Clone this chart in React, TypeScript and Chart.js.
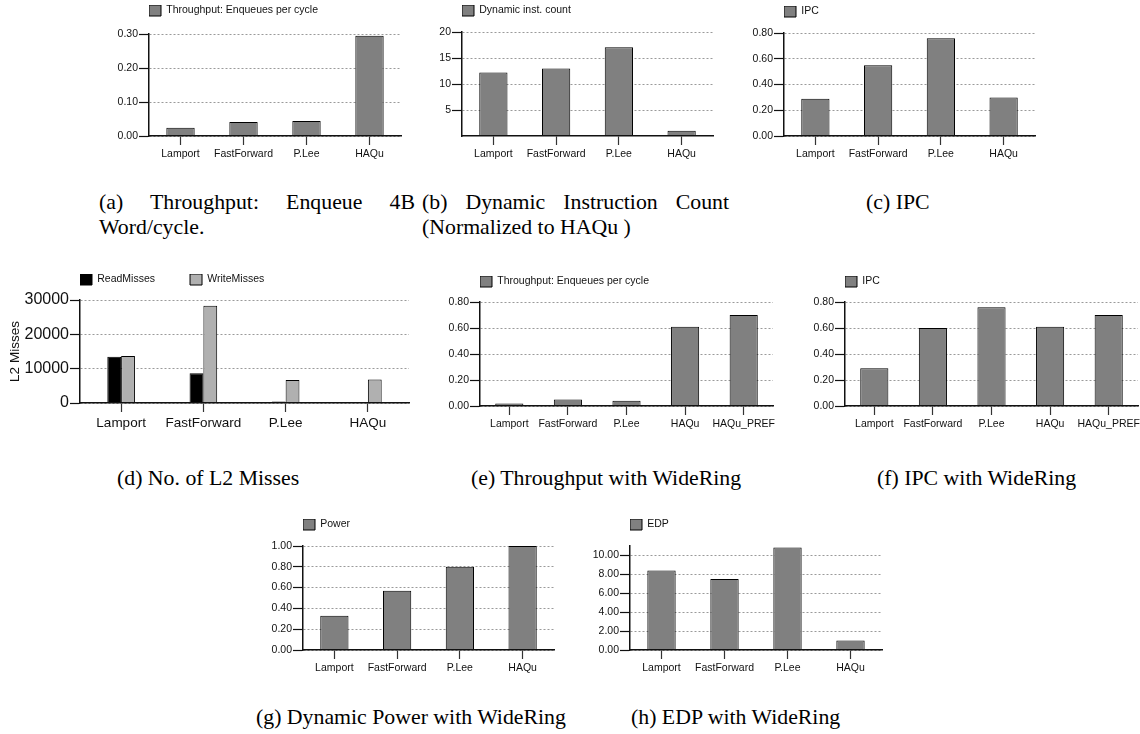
import React, { useEffect, useRef } from 'react';
import { Chart, registerables } from 'chart.js';

Chart.register(...registerables);

// ---------- data ----------
const categories4 = ['Lamport', 'FastForward', 'P.Lee', 'HAQu'];
const categories5 = ['Lamport', 'FastForward', 'P.Lee', 'HAQu', 'HAQu_PREF'];

const throughputValues = [0.024, 0.041, 0.044, 0.295];
const dynInstValues = [12.2, 13.0, 17.05, 1.0];
const ipcValues = [0.29, 0.55, 0.76, 0.3];
const readMissValues = [13500, 8700, 450, 300];
const writeMissValues = [13700, 28300, 6700, 6850];
const wideThroughputValues = [0.02, 0.05, 0.04, 0.61, 0.7];
const wideIpcValues = [0.29, 0.6, 0.76, 0.61, 0.7];
const powerValues = [0.33, 0.57, 0.8, 1.0];
const edpValues = [8.4, 7.5, 10.85, 1.0];

const captionLines = [
  { text: '(a) Throughput: Enqueue 4B', left: 99, baseline: 210, width: 316 },
  { text: 'Word/cycle.', left: 99, baseline: 235 },
  { text: '(b) Dynamic Instruction Count', left: 422, baseline: 210, width: 307 },
  { text: '(Normalized to HAQu )', left: 422, baseline: 235 },
  { text: '(c) IPC', left: 866, baseline: 210 },
  { text: '(d) No. of L2 Misses', left: 117, baseline: 486 },
  { text: '(e) Throughput with WideRing', left: 471, baseline: 486 },
  { text: '(f) IPC with WideRing', left: 877, baseline: 486 },
  { text: '(g) Dynamic Power with WideRing', left: 256, baseline: 725 },
  { text: '(h) EDP with WideRing', left: 631, baseline: 725 },
];

// ---------- styles ----------
const FONT_SANS = "'Liberation Sans', Arial, Helvetica, sans-serif";
const FONT_SERIF = "'Liberation Serif', 'Times New Roman', serif";
const BAR_GRAY = '#808080';
const LIGHT_GRAY = '#b0b0b0';
const INK = '#111111';

type DS = { label: string; data: number[]; color: string };
type PanelSpec = {
  id: string;
  labels: string[];
  datasets: DS[];
  yMax: number;
  yStep: number;
  decimals: number;
  hideZero?: boolean;
  L: number; R: number; T: number; B: number; LT: number;
  Wy: number;
  barPct: number;
  catPct: number;
  tickFont: number;
  catFont: number;
  yTitle?: string;
  titleFont?: number;
  legendGap?: number;
};

const PT = 3;
const PR = 14;
const HX = 30;
const LEGEND_H = 21;

const panels: PanelSpec[] = [
  { id: 'a', labels: categories4, datasets: [{ label: 'Throughput: Enqueues per cycle', data: throughputValues, color: BAR_GRAY }],
    yMax: 0.3, yStep: 0.1, decimals: 2, L: 149, R: 401, T: 34, B: 136, LT: 5, Wy: 45, barPct: 0.45, catPct: 1, tickFont: 10.5, catFont: 10.5 },
  { id: 'b', labels: categories4, datasets: [{ label: 'Dynamic inst. count', data: dynInstValues, color: BAR_GRAY }],
    yMax: 20, yStep: 5, decimals: 0, hideZero: true, L: 462, R: 713, T: 32, B: 136, LT: 5, Wy: 45, barPct: 0.45, catPct: 1, tickFont: 10.5, catFont: 10.5 },
  { id: 'c', labels: categories4, datasets: [{ label: 'IPC', data: ipcValues, color: BAR_GRAY }],
    yMax: 0.8, yStep: 0.2, decimals: 2, L: 784, R: 1035, T: 33, B: 136, LT: 6, Wy: 45, barPct: 0.45, catPct: 1, tickFont: 10.5, catFont: 10.5 },
  { id: 'd', labels: categories4, datasets: [
      { label: 'ReadMisses', data: readMissValues, color: '#000000' },
      { label: 'WriteMisses', data: writeMissValues, color: LIGHT_GRAY },
    ],
    yMax: 30000, yStep: 10000, decimals: 0, L: 80, R: 409, T: 300, B: 403, LT: 274, Wy: 77, barPct: 1, catPct: 0.336, tickFont: 16, catFont: 13.5,
    yTitle: 'L2 Misses', titleFont: 13.5, legendGap: 12 },
  { id: 'e', labels: categories5, datasets: [{ label: 'Throughput: Enqueues per cycle', data: wideThroughputValues, color: BAR_GRAY }],
    yMax: 0.8, yStep: 0.2, decimals: 2, L: 480, R: 773, T: 302, B: 406, LT: 276, Wy: 45, barPct: 0.48, catPct: 1, tickFont: 10.5, catFont: 10.5 },
  { id: 'f', labels: categories5, datasets: [{ label: 'IPC', data: wideIpcValues, color: BAR_GRAY }],
    yMax: 0.8, yStep: 0.2, decimals: 2, L: 845, R: 1138, T: 302, B: 406, LT: 276, Wy: 45, barPct: 0.48, catPct: 1, tickFont: 10.5, catFont: 10.5 },
  { id: 'g', labels: categories4, datasets: [{ label: 'Power', data: powerValues, color: BAR_GRAY }],
    yMax: 1.0, yStep: 0.2, decimals: 2, L: 303, R: 554, T: 546, B: 650, LT: 519, Wy: 45, barPct: 0.45, catPct: 1, tickFont: 10.5, catFont: 10.5 },
  { id: 'h', labels: categories4, datasets: [{ label: 'EDP', data: edpValues, color: BAR_GRAY }],
    yMax: 11, yStep: 2, decimals: 2, L: 630, R: 882, T: 546, B: 650, LT: 519, Wy: 45, barPct: 0.45, catPct: 1, tickFont: 10.5, catFont: 10.5 },
];

function geom(p: PanelSpec) {
  const x = p.L - p.Wy;
  const y = p.LT - PT;
  const w = p.Wy + (p.R - p.L) + PR;
  const h = PT + (p.B - p.LT) + HX;
  return { x, y, w, h };
}

function buildConfig(p: PanelSpec): any {
  const S = Math.max(1, p.T - p.LT - LEGEND_H);
  return {
    type: 'bar',
    data: {
      labels: p.labels,
      datasets: p.datasets.map((d) => ({
        label: d.label,
        data: d.data,
        backgroundColor: d.color,
        borderColor: '#000000',
        borderWidth: 1,
        barPercentage: p.barPct,
        categoryPercentage: p.catPct,
      })),
    },
    options: {
      animation: false,
      responsive: false,
      maintainAspectRatio: false,
      devicePixelRatio: 1,
      events: [],
      layout: { padding: { top: PT, left: 0, right: PR, bottom: 0 } },
      plugins: {
        tooltip: { enabled: false },
        title: { display: false },
        legend: {
          display: true,
          position: 'top',
          align: 'start',
          fullSize: false,
          labels: {
            boxWidth: 12,
            boxHeight: 11,
            padding: 0,
            color: INK,
            font: { family: FONT_SANS, size: 10.5 },
            generateLabels: (chart: any) => {
              const items = (Chart.defaults as any).plugins.legend.labels.generateLabels(chart);
              if (p.legendGap) {
                items.forEach((it: any, i: number) => {
                  if (i < items.length - 1) it.text = it.text + ' '.repeat(p.legendGap as number);
                });
              }
              return items;
            },
          },
        },
        subtitle: {
          display: true,
          text: ' ',
          position: 'top',
          weight: 500,
          fullSize: true,
          font: { size: 1, lineHeight: 1 },
          padding: { top: 0, bottom: S - 1 },
        },
      },
      scales: {
        x: {
          offset: true,
          border: { display: true, color: INK, width: 1.5, z: 1 },
          grid: { display: true, drawOnChartArea: false, offset: false, tickLength: 9, tickColor: '#333', tickWidth: 1.2 },
          ticks: { padding: 3, color: INK, font: { family: FONT_SANS, size: p.catFont }, maxRotation: 0, autoSkip: false },
          afterFit: (s: any) => {
            s.height = HX;
            s.paddingLeft = 0;
            s.paddingRight = 0;
          },
        },
        y: {
          min: 0,
          max: p.yMax,
          border: { display: true, color: INK, width: 1.5, dash: [2, 2] },
          grid: { color: '#9a9a9a', lineWidth: 1, tickColor: INK, tickLength: 10, tickWidth: 1.2, tickBorderDash: [] },
          ticks: {
            stepSize: p.yStep,
            includeBounds: false,
            padding: 1,
            color: INK,
            font: { family: FONT_SANS, size: p.tickFont },
            callback: (v: any) => {
              const n = Number(v);
              if (p.hideZero && Math.abs(n) < 1e-9) return null;
              return p.decimals > 0 ? n.toFixed(p.decimals) : String(Math.round(n));
            },
          },
          title: p.yTitle
            ? { display: true, text: p.yTitle, color: INK, font: { family: FONT_SANS, size: p.titleFont }, padding: { top: 4, bottom: 0 } }
            : { display: false },
          afterFit: (s: any) => {
            s.width = p.Wy;
            s.paddingTop = 0;
            s.paddingBottom = 0;
          },
        },
      },
    },
  };
}

function BarPanel({ p }: { p: PanelSpec }) {
  const ref = useRef<HTMLCanvasElement>(null);
  useEffect(() => {
    if (!ref.current) return;
    const chart = new Chart(ref.current, buildConfig(p));
    return () => chart.destroy();
  }, [p]);
  const g = geom(p);
  return (
    <canvas
      ref={ref}
      width={g.w}
      height={g.h}
      style={{ position: 'absolute', left: g.x, top: g.y, width: g.w, height: g.h }}
    />
  );
}

const CAP_SIZE = 21.8;
const CAP_BASE_OFFSET = 18.3;

export default function App() {
  return (
    <div style={{ position: 'fixed', left: 0, top: 0, width: 1140, height: 734, overflow: 'hidden', background: '#ffffff' }}>
      {panels.map((p) => (
        <BarPanel key={p.id} p={p} />
      ))}
      {captionLines.map((c, i) => (
        <div
          key={i}
          style={{
            position: 'absolute',
            left: c.left,
            top: c.baseline - CAP_BASE_OFFSET,
            width: c.width,
            fontFamily: FONT_SERIF,
            fontSize: CAP_SIZE,
            lineHeight: `${CAP_SIZE}px`,
            color: '#000',
            whiteSpace: c.width ? 'normal' : 'nowrap',
            textAlign: c.width ? 'justify' : 'left',
            textAlignLast: c.width ? 'justify' : 'auto',
          } as any}
        >
          {c.text}
        </div>
      ))}
    </div>
  );
}
